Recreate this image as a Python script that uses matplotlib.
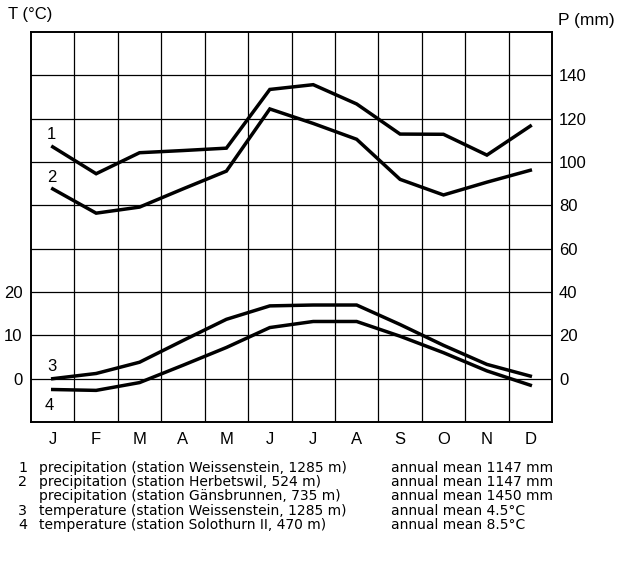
import numpy as np
import matplotlib
matplotlib.use('Agg')
import matplotlib.pyplot as plt

months = ['J', 'F', 'M', 'A', 'M', 'J', 'J', 'A', 'S', 'O', 'N', 'D']

# precipitation (mm)
p_weissenstein = [107, 94.6, 104.3, 105.3, 106.4, 133.5, 135.7, 126.8, 112.9, 112.8, 103.2, 116.6]
p_herbetswil = [87.6, 76.4, 79.2, 87.6, 95.8, 124.5, 117.8, 110.5, 92.0, 84.8, 90.7, 96.2]
# temperature (deg C)
t_weissenstein = [0.0, 1.2, 3.8, 8.8, 13.7, 16.8, 17.0, 17.0, 12.5, 7.7, 3.3, 0.6]
t_solothurn = [-2.5, -2.7, -0.9, 3.1, 7.2, 11.8, 13.2, 13.2, 9.8, 6.0, 1.8, -1.5]

legend_rows = [
    ('1', 'precipitation (station Weissenstein, 1285 m)', 'annual mean 1147 mm'),
    ('2', 'precipitation (station Herbetswil, 524 m)', 'annual mean 1147 mm'),
    ('', 'precipitation (station Gänsbrunnen, 735 m)', 'annual mean 1450 mm'),
    ('3', 'temperature (station Weissenstein, 1285 m)', 'annual mean 4.5°C'),
    ('4', 'temperature (station Solothurn II, 470 m)', 'annual mean 8.5°C'),
]

x = np.arange(12) + 0.5

fig = plt.figure(figsize=(6.19, 5.73), dpi=100)
ax = fig.add_axes([0.0501, 0.2635, 0.8417, 0.6806])
ax.set_xlim(0, 12)
ax.set_ylim(-10, 80)
ax2 = ax.twinx()
ax2.set_ylim(-20, 160)

# grid
ax.set_yticks(np.arange(0, 80, 10))
ax.set_yticklabels(['0', '10', '20', '', '', '', '', ''])
ax.set_xticks(x)
ax.set_xticklabels(months)
ax.set_xticks(np.arange(1, 12), minor=True)
ax.grid(True, which='major', axis='y', color='black', lw=0.9)
ax.grid(True, which='minor', axis='x', color='black', lw=0.9)
ax.tick_params(which='both', length=0, labelsize=12, pad=6)
ax.tick_params(axis='x', pad=7)
ax2.set_yticks(np.arange(0, 160, 20))
ax2.tick_params(length=0, labelsize=12, pad=5)
for a in (ax, ax2):
    for s in a.spines.values():
        s.set_linewidth(1.2)
    for lab in a.get_xticklabels() + a.get_yticklabels():
        lab.set_family('Liberation Sans')

ax2.plot(x, p_weissenstein, color='black', lw=2.5, solid_joinstyle='miter')
ax2.plot(x, p_herbetswil, color='black', lw=2.5, solid_joinstyle='miter')
ax.plot(x, t_weissenstein, color='black', lw=2.5, solid_joinstyle='miter')
ax.plot(x, t_solothurn, color='black', lw=2.5, solid_joinstyle='miter')

lab_kw = dict(fontsize=12, family='Liberation Sans', ha='center', va='center')
ax2.text(0.46, 112.5, '1', **lab_kw)
ax2.text(0.48, 93, '2', **lab_kw)
ax.text(0.48, 2.7, '3', **lab_kw)
ax.text(0.42, -6.3, '4', **lab_kw)

fig.text(8 / 619, 1 - 15 / 573, 'T (°C)', fontsize=12, family='Liberation Sans', va='center')
fig.text(558 / 619, 1 - 20 / 573, 'P (mm)', fontsize=12.5, family='Liberation Sans', va='center')

for i, (num, desc, mean) in enumerate(legend_rows):
    yy = 1 - (468 + 14.2 * i) / 573
    fig.text(18 / 619, yy, num, fontsize=10.3, va='center')
    fig.text(39 / 619, yy, desc, fontsize=10, va='center')
    fig.text(391 / 619, yy, mean, fontsize=10, va='center')

fig.savefig('out.png', dpi=100)
